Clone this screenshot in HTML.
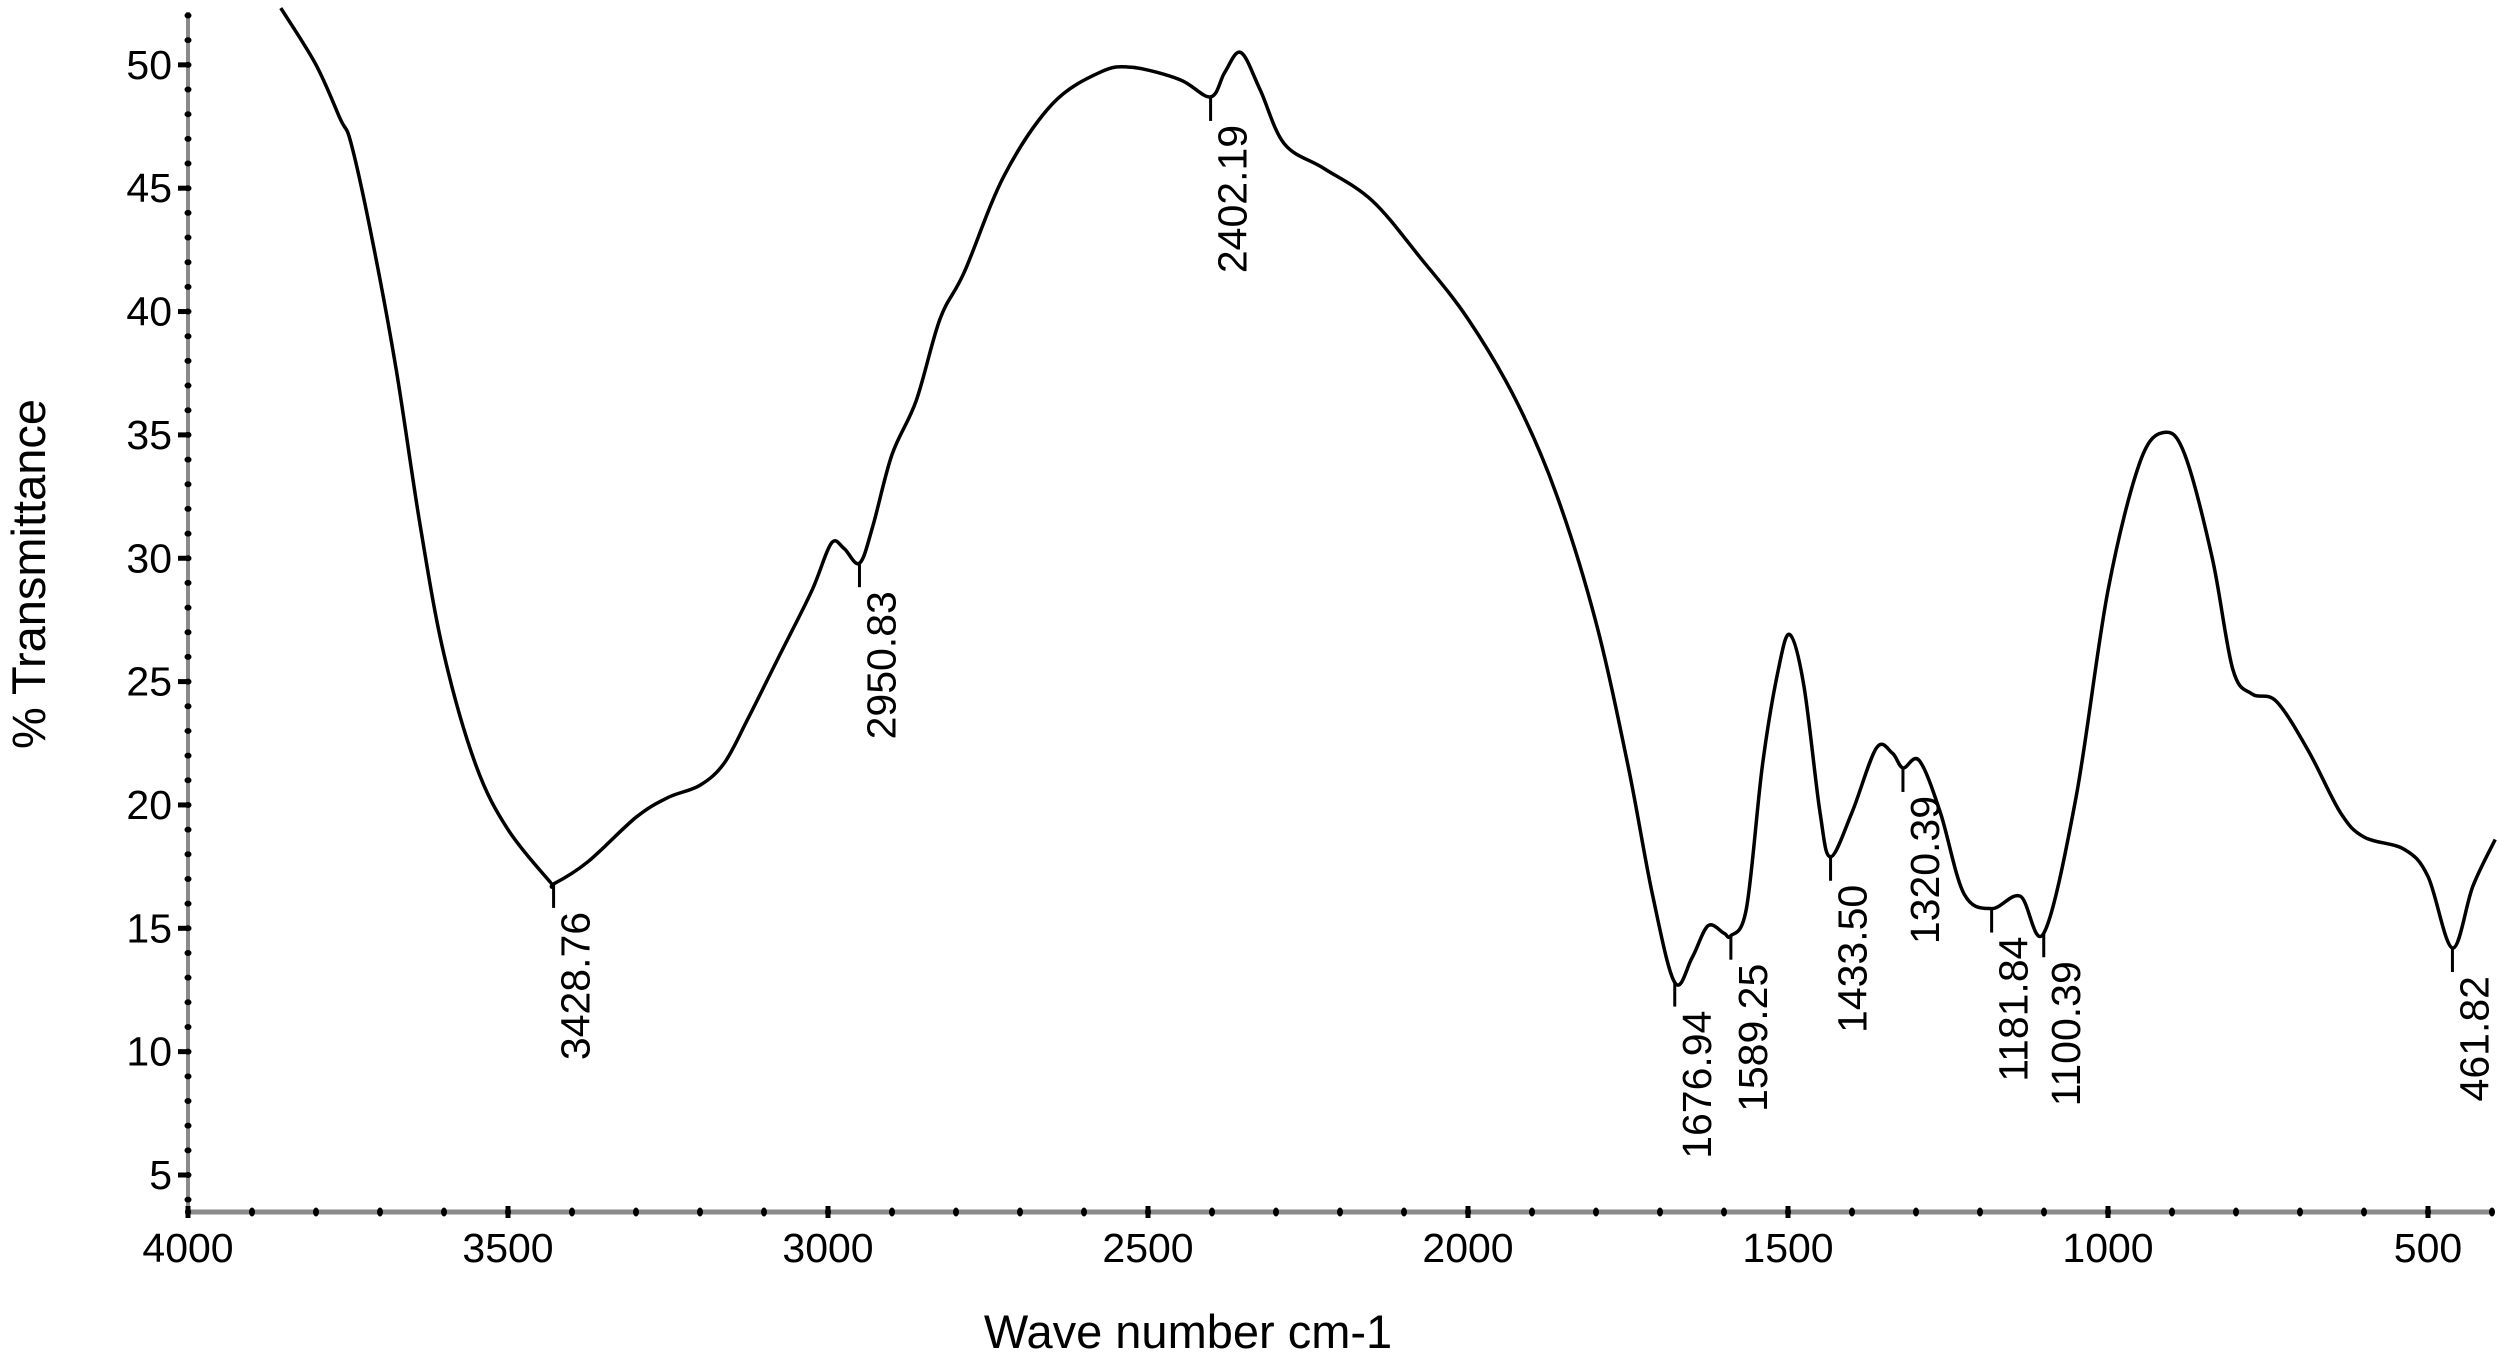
<!DOCTYPE html>
<html><head><meta charset="utf-8"><style>
html,body{margin:0;padding:0;background:#fff;}
svg{display:block;font-family:"Liberation Sans",Arial,sans-serif;}
</style></head><body>
<svg id="chart" width="2500" height="1368" viewBox="0 0 2500 1368" xmlns="http://www.w3.org/2000/svg">
<g id="axes"></g>
<g id="series"></g>
<g id="peaks"></g>
<text x="0" y="0" transform="translate(45,574) rotate(-90)" text-anchor="middle" font-size="47">% Transmittance</text>
<text x="1188" y="1348" text-anchor="middle" font-size="47">Wave number cm-1</text>
</svg>
<script>
const wavenumbers=[3855,3800,3762,3745,3712,3675,3637,3600,3550,3500,3435,3428.76,3375,3300,3250,3200,3162,3125,3075,3025,2995,2975,2950.83,2930,2900,2862,2825,2787,2725,2650,2575,2525,2450,2402.19,2380,2355,2325,2287,2225,2150,2075,2000,1925,1862,1800,1750,1712,1676.94,1650,1625,1600,1589.25,1565,1540,1515,1497,1475,1450,1433.5,1400,1362,1337,1320.39,1295,1262,1225,1181.84,1137,1100.39,1050,1000,950,912,880,837,805,775,737,687,637,600,537,500,461.82,430,395];
const transmittance=[52.3,50,47.8,46.8,42.9,37.7,31.3,26.1,21.6,19.0,16.9,16.8,17.7,19.5,20.3,20.8,21.7,23.5,26.1,28.7,30.6,30.4,29.8,31.3,34.2,36.4,39.7,41.6,45.5,48.4,49.7,49.9,49.4,48.7,49.7,50.5,49.0,46.8,45.8,44.5,42.2,39.7,36.4,32.6,27.4,21.6,16.4,12.8,13.8,15.1,14.8,14.7,15.8,21.6,25.5,26.9,24.8,19.7,17.9,19.7,22.3,22.1,21.5,21.8,19.7,16.4,15.8,16.3,14.8,20.3,28.7,33.9,35.1,34.2,30.0,25.5,24.5,24.2,22.2,19.7,18.7,18.2,17.1,14.2,16.7,18.6];
const peakLabels=["3428.76","2950.83","2402.19","1676.94","1589.25","1433.50","1320.39","1181.84","1100.39","461.82"];
const peakWn=[3428.76,2950.83,2402.19,1676.94,1589.25,1433.5,1320.39,1181.84,1100.39,461.82];
const peakVal=[16.8,29.8,48.7,12.8,14.7,17.9,21.5,15.8,14.8,14.2];
const xTicks=[4000,3500,3000,2500,2000,1500,1000,500];
const yTicks=[5,10,15,20,25,30,35,40,45,50];

const NS="http://www.w3.org/2000/svg";
function X(v){return 188+(4000-v)*0.64;}
function Y(v){return 1175-(v-5)*24.67;}
function mk(tag,attrs,parent){const e=document.createElementNS(NS,tag);for(const k in attrs)e.setAttribute(k,attrs[k]);parent.appendChild(e);return e;}
const axes=document.getElementById('axes');
const axisY=1212, axisX=188;
let l=mk('line',{x1:axisX,y1:axisY,x2:2492,y2:axisY,stroke:'#8a8a8a','stroke-width':5},axes);


l=mk('line',{x1:axisX,y1:12,x2:axisX,y2:axisY,stroke:'#8a8a8a','stroke-width':4},axes);


for(let v=4000;v>=400;v-=100){
  const c=mk('ellipse',{cx:X(v),cy:axisY,rx:3,ry:4.5,fill:'#000'},axes);
  
  
}
for(let v=4;v<=52;v+=1){
  if(Y(v)<12)continue;
  const c=mk('ellipse',{cx:axisX,cy:Y(v),rx:3.5,ry:3,fill:'#000'},axes);
  
  
}
xTicks.forEach(v=>{
  const t=mk('text',{x:X(v),y:1262,'text-anchor':'middle','font-size':41},axes);
  t.textContent=v;
  
  
  const m=mk('line',{x1:X(v),y1:axisY-6,x2:X(v),y2:axisY+6,stroke:'#000','stroke-width':5},axes);
  
  
});
yTicks.forEach(v=>{
  const t=mk('text',{x:172,y:Y(v)+14,'text-anchor':'end','font-size':41},axes);
  t.textContent=v;
  
  
  const m=mk('line',{x1:axisX-10,y1:Y(v),x2:axisX,y2:Y(v),stroke:'#000','stroke-width':5},axes);
  
  
});
const pts=wavenumbers.map((w,i)=>[X(w),Y(transmittance[i])]);
let d='M'+pts[0][0].toFixed(1)+','+pts[0][1].toFixed(1);
for(let i=0;i<pts.length-1;i++){
  const p0=pts[Math.max(0,i-1)],p1=pts[i],p2=pts[i+1],p3=pts[Math.min(pts.length-1,i+2)];
  const c1=[p1[0]+(p2[0]-p0[0])/6,p1[1]+(p2[1]-p0[1])/6];
  const c2=[p2[0]-(p3[0]-p1[0])/6,p2[1]-(p3[1]-p1[1])/6];
  d+='C'+c1[0].toFixed(1)+','+c1[1].toFixed(1)+' '+c2[0].toFixed(1)+','+c2[1].toFixed(1)+' '+p2[0].toFixed(1)+','+p2[1].toFixed(1);
}
const path=mk('path',{d:d,fill:'none',stroke:'#000','stroke-width':3.5,'stroke-linejoin':'round'},document.getElementById('series'));


const pg=document.getElementById('peaks');
peakWn.forEach((w,i)=>{
  const px=X(w),py=Y(peakVal[i]);
  const t=mk('line',{x1:px,y1:py,x2:px,y2:py+24,stroke:'#000','stroke-width':3},pg);
  
  
  const tx=mk('text',{x:0,y:0,'text-anchor':'end','font-size':41,transform:'translate('+(px+36)+','+(py+28)+') rotate(-90)'},pg);
  tx.textContent=peakLabels[i];
  
  
});
</script>
</body></html>
